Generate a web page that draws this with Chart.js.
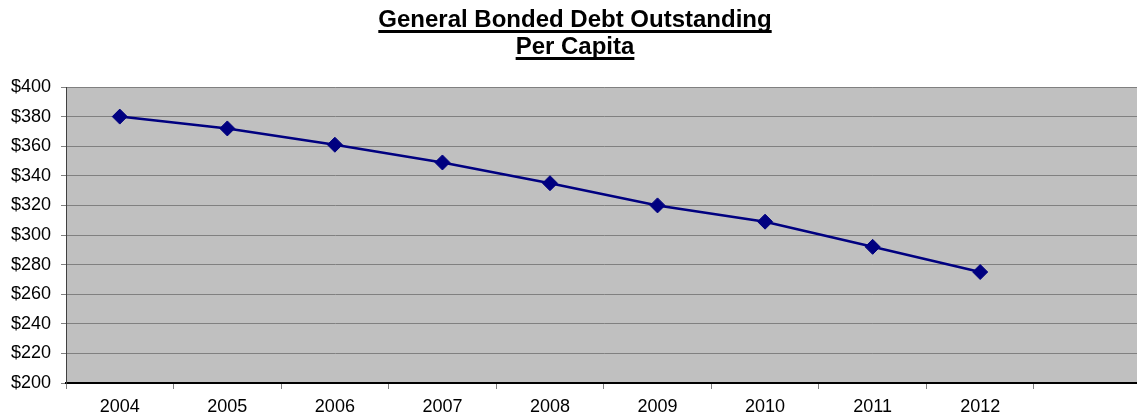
<!DOCTYPE html>
<html lang="en">
<head>
  <meta charset="UTF-8">
  <title>General Bonded Debt Outstanding Per Capita</title>
  <script src="https://cdn.jsdelivr.net/npm/chart.js"></script>
  <style>
    body { margin: 0; overflow: hidden; background: white; }
    #wrap { position: absolute; left: 0; top: 0; width: 1150px; height: 420px; }
    #title {
      position: absolute;
      left: 0;
      top: 5px;
      width: 1150px;
      text-align: center;
      font-family: "Liberation Sans", Arial, sans-serif;
      font-weight: bold;
      font-size: 24px;
      line-height: 27px;
      color: black;
    }
    #title span {
      text-decoration: underline;
      text-decoration-thickness: 3px;
      text-underline-offset: 3px;
      text-decoration-skip-ink: none;
    }
  </style>
</head>
<body>
<div id="wrap">
  <canvas id="debtChart" width="1150" height="420"></canvas>
  <div id="title"><span>General Bonded Debt Outstanding</span><br><span>Per Capita</span></div>
</div>

<script>
let years = ['2004', '2005', '2006', '2007', '2008', '2009', '2010', '2011', '2012'];
let debtPerCapita = [380, 372, 361, 349, 335, 320, 309, 292, 275];
let yMin = 200;
let yMax = 400;
let yStep = 20;

// grey plot area like the old spreadsheet charts
const plotBackground = {
  id: 'plotBackground',
  beforeDraw(chart) {
    const a = chart.chartArea;
    const ctx = chart.ctx;
    ctx.save();
    ctx.fillStyle = '#C0C0C0';
    ctx.fillRect(a.left, a.top, a.right - a.left, a.bottom - a.top);
    ctx.restore();
  }
};

const tickFont = { family: '"Liberation Sans", Arial, sans-serif', size: 18 };

const ctx = document.getElementById('debtChart').getContext('2d');
new Chart(ctx, {
  type: 'line',
  data: {
    // one empty slot after 2012
    labels: years.concat(['']),
    datasets: [{
      label: 'Per Capita',
      data: debtPerCapita,
      borderColor: '#000080',
      borderWidth: 2.5,
      backgroundColor: '#000080',
      pointStyle: 'rectRot',
      pointRadius: 7.5,
      pointBorderWidth: 1,
      pointBorderColor: '#000080',
      pointBackgroundColor: '#000080',
      tension: 0,
      fill: false
    }]
  },
  options: {
    responsive: false,
    animation: false,
    devicePixelRatio: 1,
    layout: { padding: { top: 87, right: 4, left: 0, bottom: 0 } },
    plugins: {
      legend: { display: false },
      tooltip: { enabled: false },
      title: { display: false }
    },
    scales: {
      x: {
        type: 'category',
        offset: true,
        grid: {
          offset: true,
          drawOnChartArea: false,
          color: '#808080',
          tickLength: 6
        },
        border: { color: '#000000', width: 2 },
        ticks: { color: '#000000', font: tickFont, padding: 7, maxRotation: 0, autoSkip: false },
        afterFit(scale) { scale.height = 37; }
      },
      y: {
        min: yMin,
        max: yMax,
        grid: { color: '#808080', lineWidth: 1, tickLength: 5 },
        border: { color: '#404040', width: 1 },
        ticks: {
          stepSize: yStep,
          color: '#000000',
          font: tickFont,
          padding: 10,
          callback: v => '$' + v
        },
        afterFit(scale) { scale.width = 66; }
      }
    }
  },
  plugins: [plotBackground]
});
</script>
</body>
</html>
